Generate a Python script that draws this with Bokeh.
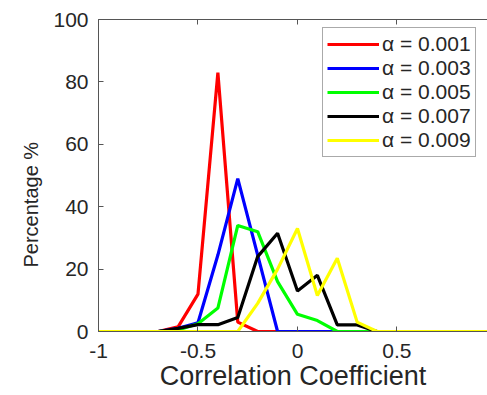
from bokeh.plotting import figure
from bokeh.models import Range1d, LinearAxis, Legend, LegendItem, FixedTicker, Title
from bokeh.embed import file_html
from bokeh.resources import INLINE

coef = [-1.0, -0.9, -0.8, -0.7, -0.6, -0.5, -0.4, -0.3, -0.2, -0.1, 0.0,
        0.1, 0.2, 0.3, 0.4, 0.5, 0.6, 0.7, 0.8, 0.9, 1.0]
a001 = [0, 0, 0, 0, 1.5, 12, 83, 3, 0, 0, 0, 0, 0, 0, 0, 0, 0, 0, 0, 0, 0]
a003 = [0, 0, 0, 0, 1, 2.8, 24.5, 49, 24.5, 0, 0, 0, 0, 0, 0, 0, 0, 0, 0, 0, 0]
a005 = [0, 0, 0, 0, 0.5, 2.5, 7.5, 34, 32, 16, 5.5, 3.5, 0, 0, 0, 0, 0, 0, 0, 0, 0]
a007 = [0, 0, 0, 0, 1, 2.2, 2.2, 4.5, 24, 31.5, 13, 18, 2.1, 2.1, 0, 0, 0, 0, 0, 0, 0]
a009 = [0, 0, 0, 0, 0, 0, 0, 0, 9, 20, 33, 11.5, 23.5, 3, 0, 0, 0, 0, 0, 0, 0]
labels = ["α = 0.001", "α = 0.003", "α = 0.005", "α = 0.007", "α = 0.009"]
colors = ["#ff0000", "#0000ff", "#00ff00", "#000000", "#ffff00"]
series = [a001, a003, a005, a007, a009]
x_ticks = [-1, -0.5, 0, 0.5, 1]
y_ticks = [0, 20, 40, 60, 80, 100]

FONT = "Liberation Sans"
AX = "#555555"
TXT = "#262626"

p = figure(width=487, height=395, output_backend="svg", toolbar_location=None,
           x_range=Range1d(-1, 0.955), y_range=Range1d(0, 100),
           min_border_left=98, min_border_right=0, min_border_top=19, min_border_bottom=64)
p.outline_line_color = None
p.xgrid.visible = False
p.ygrid.visible = False
p.background_fill_color = "white"

items = []
for ys, c, lab in zip(series, colors, labels):
    r = p.line(coef, ys, line_color=c, line_width=3.2)
    items.append(LegendItem(label=lab, renderers=[r]))

for ax in (p.xaxis[0], p.yaxis[0]):
    ax.axis_line_color = AX
    ax.major_tick_line_color = AX
    ax.major_tick_in = 5
    ax.major_tick_out = 0
    ax.minor_tick_line_color = None
    ax.major_label_text_font = FONT
    ax.major_label_text_color = TXT
    ax.major_label_text_font_size = "21px"
    ax.axis_label_text_font = FONT
    ax.axis_label_text_color = TXT
    ax.axis_label_text_font_style = "normal"

p.xaxis[0].ticker = FixedTicker(ticks=x_ticks)
p.xaxis[0].major_label_overrides = {-1: "-1", -0.5: "-0.5", 0: "0", 0.5: "0.5", 1: "1"}
p.yaxis[0].ticker = FixedTicker(ticks=y_ticks)
p.xaxis[0].axis_label = "Correlation Coefficient"
p.xaxis[0].axis_label_text_font_size = "27px"
p.xaxis[0].major_label_standoff = 12
p.xaxis[0].axis_label_standoff = 0
p.yaxis[0].major_label_standoff = 10

ytitle = Title(text="Percentage %", align="left", offset=64,
               text_font=FONT, text_font_size="20px", text_font_style="normal",
               text_color=TXT, standoff=18)
p.add_layout(ytitle, "left")

top = LinearAxis(ticker=FixedTicker(ticks=x_ticks))
top.axis_line_color = AX
top.major_tick_line_color = AX
top.major_tick_in = 5
top.major_tick_out = 0
top.minor_tick_line_color = None
top.major_label_text_font_size = "0px"
top.major_label_text_color = None
p.add_layout(top, "above")

legend = Legend(items=items, location=(224, 174))
legend.label_text_font = FONT
legend.label_text_font_size = "21px"
legend.label_text_color = TXT
legend.glyph_width = 52
legend.glyph_height = 20
legend.label_height = 20
legend.spacing = 0
legend.padding = 4
legend.margin = 0
legend.label_standoff = 3
legend.border_line_color = AX
legend.border_line_width = 1.5
legend.background_fill_alpha = 1
p.add_layout(legend, "center")

open("out.html", "w").write(file_html(p, INLINE))
